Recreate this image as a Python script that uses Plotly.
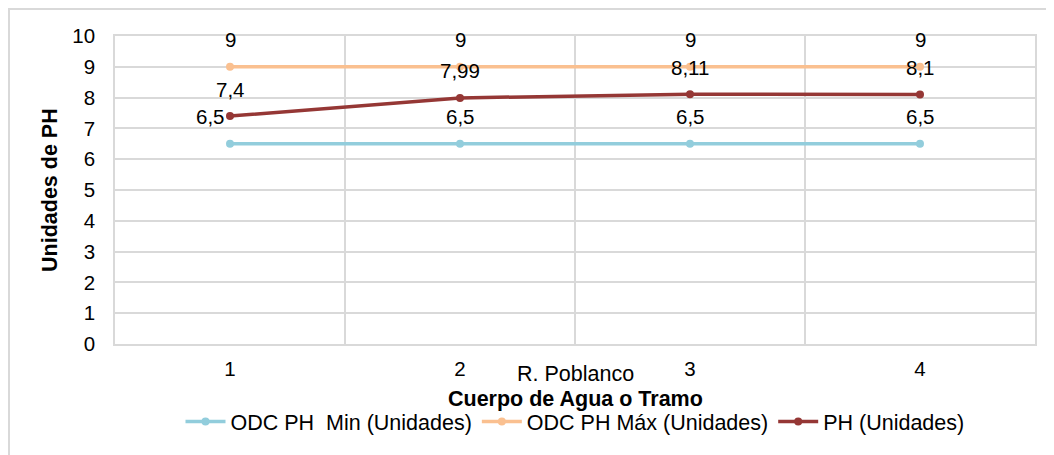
import plotly.graph_objects as go

categories = [1, 2, 3, 4]
group_label = "R. Poblanco"
odc_min = [6.5, 6.5, 6.5, 6.5]
odc_max = [9, 9, 9, 9]
ph = [7.4, 7.99, 8.11, 8.1]
series_names = ["ODC PH\u00a0 Min (Unidades)", "ODC PH Máx (Unidades)", "PH (Unidades)"]
colors = ["#92CDDC", "#FAC090", "#953735"]
x_title = "Cuerpo de Agua o Tramo"
y_title = "Unidades de PH"

FONT = "Liberation Sans, Arial, sans-serif"
FS = 21.5
TFS = 20.5


def fmt(v):
    if float(v).is_integer():
        return str(int(v))
    return ("%g" % v).replace(".", ",")


fig = go.Figure()
for vals, name, col in zip([odc_min, odc_max, ph], series_names, colors):
    fig.add_trace(go.Scatter(
        x=categories, y=vals, name=name, mode="lines+markers",
        line=dict(color=col, width=3.5),
        marker=dict(color=col, size=8),
    ))

annotations = []
for si, vals in enumerate([odc_min, odc_max, ph]):
    for i, (c, v) in enumerate(zip(categories, vals)):
        xs = -20 if (si == 0 and i == 0) else 0
        annotations.append(dict(
            x=c, y=v, xref="x", yref="y", text=fmt(v), showarrow=False,
            yshift=27, xshift=xs, yanchor="middle", xanchor="center",
            font=dict(family=FONT, size=TFS, color="#000000"),
        ))

annotations.append(dict(x=0.5, y=-0.0974, xref="paper", yref="paper", text=group_label,
                        showarrow=False, yanchor="middle", xanchor="center",
                        font=dict(family=FONT, size=FS, color="#000000")))
annotations.append(dict(x=0.5, y=-0.1786, xref="paper", yref="paper", text="<b>%s</b>" % x_title,
                        showarrow=False, yanchor="middle", xanchor="center",
                        font=dict(family=FONT, size=FS, color="#000000")))
annotations.append(dict(x=-0.0707, y=0.5, xref="paper", yref="paper", text="<b>%s</b>" % y_title,
                        showarrow=False, yanchor="middle", xanchor="center", textangle=-90,
                        font=dict(family=FONT, size=FS, color="#000000")))

grid = "#D9D9D9"
fig.update_layout(
    width=1046, height=447,
    margin=dict(l=107, r=19, t=28, b=111),
    paper_bgcolor="white", plot_bgcolor="white",
    font=dict(family=FONT, size=FS, color="#000000"),
    showlegend=True,
    legend=dict(orientation="h", x=0.5, xanchor="center", y=-0.252, yanchor="middle",
                font=dict(family=FONT, size=FS, color="#000000"), itemwidth=40,
                bgcolor="rgba(0,0,0,0)"),
    annotations=annotations,
    shapes=[dict(type="rect", xref="paper", yref="paper",
                 x0=-0.1152, x1=1.2, y0=-0.6, y1=1.0877,
                 line=dict(color="#D9D9D9", width=2), fillcolor="rgba(0,0,0,0)", layer="below")],
)
fig.update_xaxes(
    range=[0.5, 4.5], tickmode="array", tickvals=categories,
    ticktext=[str(c) for c in categories], showgrid=False, zeroline=False,
    showline=True, mirror=True, linecolor=grid, linewidth=1.5,
    ticks="", ticklabelstandoff=6,
    minor=dict(tick0=0.5, dtick=1, showgrid=True, gridcolor=grid, gridwidth=1.5, ticks=""),
    tickfont=dict(family=FONT, size=TFS, color="#000000"),
)
fig.update_yaxes(
    range=[0, 10], dtick=1, tick0=0, showgrid=True, gridcolor=grid, gridwidth=1.5,
    zeroline=False, showline=True, mirror=True, linecolor=grid, linewidth=1.5,
    ticks="", ticklabelstandoff=14,
    tickfont=dict(family=FONT, size=TFS, color="#000000"),
)

fig.write_html("out.html")
